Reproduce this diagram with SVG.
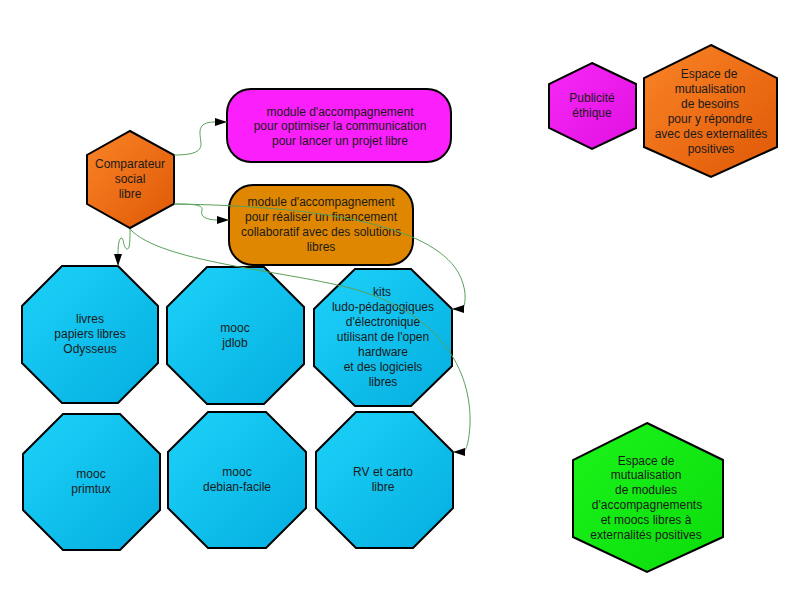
<svg xmlns="http://www.w3.org/2000/svg" width="800" height="600" viewBox="0 0 800 600">
<defs>
<linearGradient id="gOrange" x1="0" y1="0" x2="1" y2="1"><stop offset="0" stop-color="#fa8426"/><stop offset="1" stop-color="#df5806"/></linearGradient>
<linearGradient id="gPink" x1="0" y1="0" x2="1" y2="1"><stop offset="0" stop-color="#f828f8"/><stop offset="1" stop-color="#e010e0"/></linearGradient>
<linearGradient id="gGreen" x1="0" y1="0" x2="1" y2="1"><stop offset="0" stop-color="#1af41a"/><stop offset="1" stop-color="#0cdc0c"/></linearGradient>
<linearGradient id="gBlue" x1="0" y1="0" x2="1" y2="1"><stop offset="0" stop-color="#1dd2fa"/><stop offset="1" stop-color="#04aedf"/></linearGradient>
<marker id="arr" markerUnits="userSpaceOnUse" markerWidth="13" markerHeight="9" refX="12" refY="4" orient="auto"><path d="M0,0 L12,4 L0,8 z" fill="#000"/></marker>
</defs>
<style>
.n{stroke:#000;stroke-width:2;stroke-linejoin:miter}
.t{font-family:"Liberation Sans",Arial,sans-serif;font-size:12px;fill:#1a1a1a;text-anchor:middle}
.e{fill:none;stroke:#5aa05a;stroke-width:1;marker-end:url(#arr)}
</style>
<rect width="800" height="600" fill="#fff"/>
<g id="comparateur">
<polygon class="n" fill="url(#gOrange)" points="130,131 174,155 174,204 130,228 87,204 87,155"/>
<text class="t"><tspan x="130" y="168">Comparateur</tspan><tspan x="130" y="183">social</tspan><tspan x="130" y="198">libre</tspan></text>
</g>
<g id="module-communication">
<rect class="n" fill="#fb1ffb" x="227" y="89" width="224" height="73" rx="24" ry="24"/>
<text class="t"><tspan x="340" y="116">module d'accompagnement</tspan><tspan x="340" y="130">pour optimiser la communication</tspan><tspan x="340" y="145">pour lancer un projet libre</tspan></text>
</g>
<g id="module-financement">
<rect class="n" fill="#df8700" x="229" y="185" width="184" height="80" rx="24" ry="24"/>
<text class="t"><tspan x="321" y="206">module d'accompagnement</tspan><tspan x="321" y="221">pour réaliser un financement</tspan><tspan x="321" y="236">collaboratif avec des solutions</tspan><tspan x="321" y="251">libres</tspan></text>
</g>
<g id="publicite">
<polygon class="n" fill="url(#gPink)" points="592,63 636,84 636,128 592,149 549,128 549,84"/>
<text class="t"><tspan x="592" y="102">Publicité</tspan><tspan x="592" y="117">éthique</tspan></text>
</g>
<g id="espace-besoins">
<polygon class="n" fill="url(#gOrange)" points="711,45 777,78 777,147 711,177 644,147 644,78"/>
<text class="t"><tspan x="709" y="78">Espace de</tspan><tspan x="710" y="93">mutualisation</tspan><tspan x="710" y="108">de besoins</tspan><tspan x="710" y="123">pour y répondre</tspan><tspan x="711" y="138">avec des externalités</tspan><tspan x="711" y="153">positives</tspan></text>
</g>
<g id="espace-modules">
<polygon class="n" fill="url(#gGreen)" points="647,423 723,460 723,537 647,572 573,537 573,460"/>
<text class="t"><tspan x="646" y="465">Espace de</tspan><tspan x="646" y="479">mutualisation</tspan><tspan x="646" y="494">de modules</tspan><tspan x="647" y="509">d'accompagnements</tspan><tspan x="646" y="524">et moocs libres à</tspan><tspan x="646" y="539">externalités positives</tspan></text>
</g>
<g id="livres">
<polygon class="n" fill="url(#gBlue)" points="62,266 118,266 158,306 158,363 118,403 62,403 22,363 22,306"/>
<text class="t"><tspan x="90" y="323">livres</tspan><tspan x="90" y="338">papiers libres</tspan><tspan x="90" y="353">Odysseus</tspan></text>
</g>
<g id="jdlob">
<polygon class="n" fill="url(#gBlue)" points="207,267 264,267 304,307 304,364 264,404 207,404 167,364 167,307"/>
<text class="t"><tspan x="235" y="332">mooc</tspan><tspan x="235" y="347">jdlob</tspan></text>
</g>
<g id="kits">
<polygon class="n" fill="url(#gBlue)" points="355,269 411,269 452,309 452,366 411,406 355,406 314,366 314,309"/>
<text class="t"><tspan x="382" y="296">kits</tspan><tspan x="383" y="311">ludo-pédagogiques</tspan><tspan x="383" y="326">d'électronique</tspan><tspan x="383" y="341">utilisant de l'open</tspan><tspan x="383" y="356">hardware</tspan><tspan x="383" y="371">et des logiciels</tspan><tspan x="383" y="386">libres</tspan></text>
</g>
<g id="primtux">
<polygon class="n" fill="url(#gBlue)" points="63,414 120,414 160,454 160,510 120,550 63,550 23,510 23,454"/>
<text class="t"><tspan x="91" y="478">mooc</tspan><tspan x="91" y="493">primtux</tspan></text>
</g>
<g id="debian-facile">
<polygon class="n" fill="url(#gBlue)" points="208,412 266,412 306,452 306,508 266,548 208,548 168,508 168,452"/>
<text class="t"><tspan x="237" y="476">mooc</tspan><tspan x="237" y="491">debian-facile</tspan></text>
</g>
<g id="rv-carto">
<polygon class="n" fill="url(#gBlue)" points="356,412 413,412 453,452 453,508 413,548 356,548 316,508 316,452"/>
<text class="t"><tspan x="383" y="476">RV et carto</tspan><tspan x="383" y="491">libre</tspan></text>
</g>
<g id="connectors">
<path class="e" d="M174,155 C190,155 202,153 201,143 C200,133 196,122 215,122 L227,122"/>
<path class="e" d="M174,204 C195,204 203,205 202,210 C200,216 205,220 218,220 L229,220"/>
<path class="e" d="M174,204 C320,206 430,225 458,272 C467,288 466,302 463,309 L452,309"/>
<path class="e" d="M130,229 C130,240 130,250 127,249 C123,248 124,237 121,238 C118,240 118,250 118,255 L118,266"/>
<path class="e" d="M130,229 C160,262 280,270 350,288 C440,312 472,370 470,425 C469,440 467,450 463,452 L453,452"/>
</g>
</svg>
